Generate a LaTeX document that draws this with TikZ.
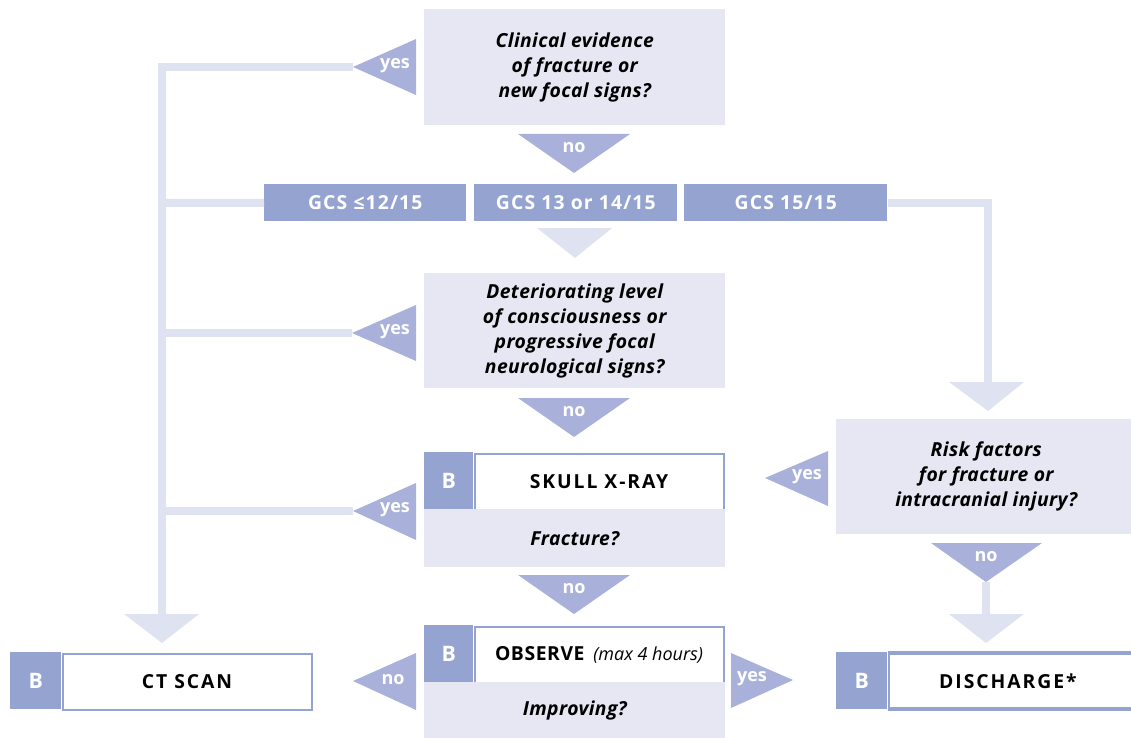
\documentclass[tikz,border=0pt]{standalone}
\usepackage{fontspec}
\setmainfont{Open Sans}
\definecolor{qfill}{HTML}{E6E7F3}
\definecolor{dark}{HTML}{95A3D1}
\definecolor{tri}{HTML}{A9B1DB}
\definecolor{conn}{HTML}{DFE2F1}
\newcommand\qfont{\fontsize{14.5}{18.75}\selectfont\bfseries\itshape\addfontfeatures{LetterSpace=2}}
\newcommand\capsfont{\fontsize{14.5}{16}\selectfont\addfontfeatures{LetterSpace=10}\bfseries}
\tikzset{
  sz/.style 2 args={minimum width=#1*0.75pt, minimum height=#2*0.75pt},
  qbox/.style={fill=qfill, inner sep=0pt, align=center, font=\qfont, anchor=north west},
  gcs/.style={fill=dark, inner sep=0pt, text=white, anchor=north west,
    font=\fontsize{14.5}{16}\selectfont\bfseries\addfontfeatures{LetterSpace=6}},
  bsq/.style={fill=dark, inner sep=0pt, text=white, anchor=north west,
    font=\fontsize{16}{16}\selectfont\bfseries},
  wbox/.style={fill=white, draw=dark, line width=1.6pt, inner sep=0pt, anchor=north west, font=\capsfont},
  trifill/.style={fill=tri},
  lightfill/.style={fill=conn},
  tlabel/.style={text=white, inner sep=0pt, font=\fontsize{13.5}{14}\selectfont\bfseries},
  conline/.style={draw=conn, line width=6pt},
}
\begin{document}
\begin{tikzpicture}[x=0.75pt,y=-0.75pt]
\useasboundingbox (0,0) rectangle (1131,738);

% question boxes
\node[qbox, sz={301}{116}] (q1) at (424,9) {Clinical evidence\\of fracture or\\new focal signs?};
\node[qbox, sz={301}{115}] (q2) at (424,273) {Deteriorating level\\of consciousness or\\progressive focal\\neurological signs?};
\node[qbox, sz={300}{115}] (q3) at (836,419) {Risk factors\\for fracture or\\intracranial injury?};

% GCS row
\node[gcs, sz={202}{37}] (g1) at (264,184) {GCS \char"2264 12/15};
\node[gcs, sz={203}{37}] (g2) at (474,184) {GCS 13 or 14/15};
\node[gcs, sz={203}{37}] (g3) at (684,184) {GCS 15/15};

% skull x-ray
\node[bsq, sz={49}{57}] (xb) at (424,452) {B};
\node[wbox, sz={249}{56}] (x) at (473.5,452.5) {SKULL X-RAY};
\node[qbox, sz={301}{58}] (xq) at (424,509) {Fracture?};

% observe
\node[bsq, sz={49}{57}] (ob) at (424,625) {B};
\node[wbox, sz={249}{56}] (o) at (473.5,625.5) {\addfontfeatures{LetterSpace=3}OBSERVE \,{\mdseries\itshape\fontsize{13.5}{14}\selectfont\addfontfeatures{LetterSpace=0} (max 4 hours)}};
\node[qbox, sz={301}{57}] (oq) at (424,682) {Improving?};

% CT scan
\node[bsq, sz={51}{57}] (cb) at (10,652) {B};
\node[wbox, sz={249}{56}] (c) at (61.5,652.5) {CT SCAN};

% discharge
\node[bsq, sz={51}{57}] (db) at (836,652) {B};
\node[wbox, sz={260}{56}, text width=195pt, align=center] (d) at (887.5,652.5) {\hspace*{-16pt}DISCHARGE*};
\draw[dark, line width=1.6pt] (887.5,652.5) -- (1131,652.5) (887.5,708.5) -- (1131,708.5);

% coordinates for triangles
\coordinate (y1tip) at (353,67);
\coordinate (y2tip) at (352,333);
\coordinate (y3tip) at (353,511);
\coordinate (ctbase) at (162,614);
\coordinate (rbase) at (988,382);
\coordinate (dbase) at (986,614);
\coordinate (n4tip) at (986,582);

% connectors (light)
\draw[conline] (y1tip) -| (ctbase);
\draw[conline] (162,203) -- (g1.west);
\draw[conline] (162,333) -- (y2tip);
\draw[conline] (162,511) -- (y3tip);
\draw[conline] (g3.east) -| (rbase);
\draw[conline] (n4tip) -- (dbase);

% light arrow heads
\fill[lightfill] (124,614) -- (199,614) -- (162,643) -- cycle;
\fill[lightfill] (949,382) -- (1024,382) -- (988,411) -- cycle;
\fill[lightfill] (537,228) -- (612,228) -- (575,258) -- cycle;
\fill[lightfill] (949,614) -- (1024,614) -- (986,643) -- cycle;

% yes / no triangles
\fill[trifill] (416,39) -- (416,95) -- (y1tip) -- cycle;
\node[tlabel] (ly1) at (395,66) {yes};
\fill[trifill] (518,134) -- (630,134) -- (574,173) -- cycle;
\node[tlabel] (ln1) at (574,148) {no};
\fill[trifill] (416,305) -- (416,361) -- (y2tip) -- cycle;
\node[tlabel] (ly2) at (395,332) {yes};
\fill[trifill] (518,398) -- (630,398) -- (574,437) -- cycle;
\node[tlabel] (ln2) at (574,412) {no};
\fill[trifill] (416,483) -- (416,540) -- (y3tip) -- cycle;
\node[tlabel] (ly3) at (395,510) {yes};
\fill[trifill] (518,575) -- (630,575) -- (574,614) -- cycle;
\node[tlabel] (ln3) at (574,589) {no};
\fill[trifill] (416,653) -- (416,710) -- (353,681) -- cycle;
\node[tlabel] (ln4) at (393,680) {no};
\fill[trifill] (731,653) -- (731,708) -- (793,680) -- cycle;
\node[tlabel] (ly4) at (752,679) {yes};
\fill[trifill] (828,451) -- (828,506) -- (765,478) -- cycle;
\node[tlabel] (ly5) at (807,477) {yes};
\fill[trifill] (931,543) -- (1042,543) -- (n4tip) -- cycle;
\node[tlabel] (ln5) at (986,557) {no};
\end{tikzpicture}
\end{document}
